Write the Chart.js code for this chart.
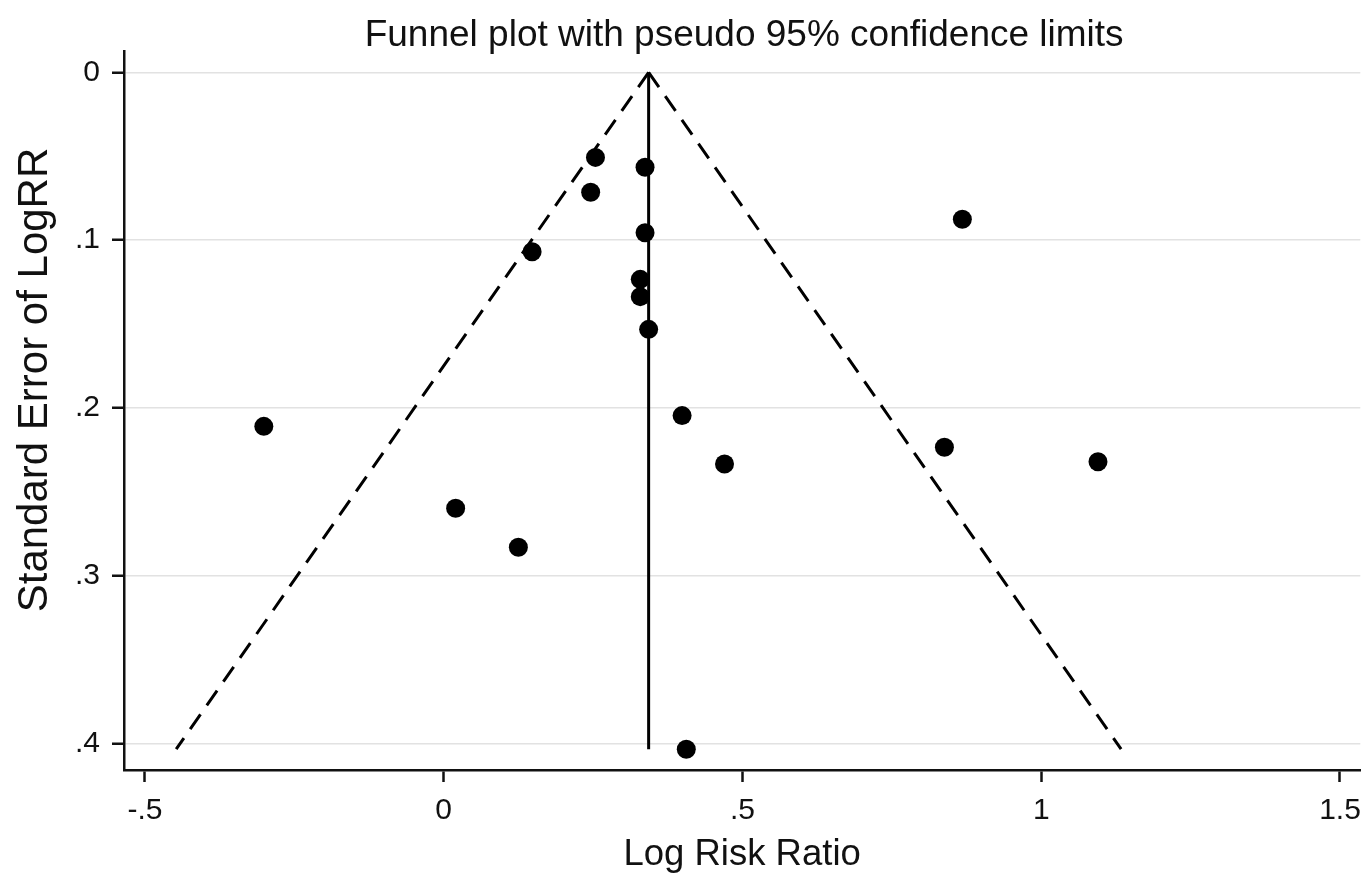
<!DOCTYPE html>
<html>
<head>
<meta charset="utf-8">
<title>Funnel plot</title>
<script src="https://cdn.jsdelivr.net/npm/chart.js@4.4.1/dist/chart.umd.min.js"></script>
<style>
  html, body { margin: 0; padding: 0; background: #fff; }
  #wrap { width: 1372px; height: 880px; }
</style>
</head>
<body>
<div id="wrap"><canvas id="funnel" width="1372" height="880"></canvas></div>
<script>
// study estimates
const logRR = [0.254, 0.337, 0.246, 0.868, 0.337, 0.148, 0.329, 0.329, 0.343,
               0.399, -0.301, 0.838, 0.470, 1.095, 0.020, 0.125, 0.406];
const seLogRR = [0.0507, 0.0566, 0.0715, 0.0876, 0.0956, 0.1069, 0.1234, 0.1337, 0.1532,
                 0.2046, 0.2110, 0.2235, 0.2334, 0.2321, 0.2598, 0.2831, 0.4034];
const pooledLogRR = 0.343;
const z95 = 1.96;

const xTicks = [-0.5, 0, 0.5, 1, 1.5];
const yTicks = [0, 0.1, 0.2, 0.3, 0.4];

const titleText = 'Funnel plot with pseudo 95% confidence limits';
const xTitle = 'Log Risk Ratio';
const yTitle = 'Standard Error of LogRR';

const FONT = '"Liberation Sans", Arial, sans-serif';
const INK = '#111';

const maxSE = Math.max(...seLogRR);
const studies = logRR.map((x, i) => ({ x: x, y: seLogRR[i] }));
const pooledLine = [{ x: pooledLogRR, y: 0 }, { x: pooledLogRR, y: maxSE }];
const lowerLimit = [{ x: pooledLogRR, y: 0 }, { x: pooledLogRR - z95 * maxSE, y: maxSE }];
const upperLimit = [{ x: pooledLogRR, y: 0 }, { x: pooledLogRR + z95 * maxSE, y: maxSE }];

// stata style labels: .5 instead of 0.5
const stataLabel = v => String(Math.round(v * 10) / 10).replace(/^(-?)0\./, '$1.');

const textPlugin = {
    id: 'stataText',
    afterDraw(chart) {
        const ctx = chart.ctx;
        const area = chart.chartArea;
        ctx.save();
        ctx.fillStyle = INK;
        ctx.textAlign = 'center';
        ctx.textBaseline = 'alphabetic';
        ctx.font = '37px ' + FONT;
        ctx.fillText(titleText, (area.left + area.right) / 2 + 2, 46);

        ctx.translate(47, 380);
        ctx.rotate(-Math.PI / 2);
        ctx.font = '42px ' + FONT;
        ctx.fillText(yTitle, 0, 0);
        ctx.restore();
    }
};

const ctx = document.getElementById('funnel').getContext('2d');
new Chart(ctx, {
    type: 'scatter',
    data: {
        datasets: [
            {
                label: 'Studies',
                data: studies,
                backgroundColor: '#000',
                borderColor: '#000',
                pointRadius: 9.5,
                pointBorderWidth: 0,
            },
            {
                label: 'Pooled',
                data: pooledLine,
                showLine: true,
                borderColor: '#000',
                borderWidth: 3,
                pointRadius: 0,
            },
            {
                label: 'Lower 95%',
                data: lowerLimit,
                showLine: true,
                borderColor: '#000',
                borderWidth: 3,
                borderDash: [18, 11],
                pointRadius: 0,
            },
            {
                label: 'Upper 95%',
                data: upperLimit,
                showLine: true,
                borderColor: '#000',
                borderWidth: 3,
                borderDash: [18, 11],
                pointRadius: 0,
            },
        ],
    },
    options: {
        responsive: false,
        animation: false,
        devicePixelRatio: 1,
        layout: { padding: { left: 0, top: 51, right: 9, bottom: 0 } },
        plugins: {
            legend: { display: false },
            tooltip: { enabled: false },
            title: { display: false },
        },
        scales: {
            x: {
                type: 'linear',
                min: -0.535,
                max: 1.534,
                afterBuildTicks: scale => { scale.ticks = xTicks.map(v => ({ value: v })); },
                afterFit: scale => { scale.height = 110; },
                ticks: {
                    autoSkip: false,
                    padding: 11,
                    color: INK,
                    font: { family: FONT, size: 30 },
                    callback: v => stataLabel(v),
                },
                grid: {
                    drawOnChartArea: false,
                    tickLength: 12,
                    tickWidth: 2.5,
                    tickColor: INK,
                },
                border: { display: true, color: INK, width: 2.5 },
                title: {
                    display: true,
                    text: xTitle,
                    color: INK,
                    font: { family: FONT, size: 36.5, lineHeight: 1 },
                    padding: { top: 0, bottom: 7 },
                },
            },
            y: {
                type: 'linear',
                reverse: true,
                min: -0.0127,
                max: 0.4158,
                afterBuildTicks: scale => { scale.ticks = yTicks.map(v => ({ value: v })); },
                afterFit: scale => { scale.width = 124; },
                ticks: {
                    autoSkip: false,
                    padding: 12,
                    color: INK,
                    font: { family: FONT, size: 30 },
                    callback: v => stataLabel(v),
                },
                grid: {
                    color: '#e2e2e2',
                    lineWidth: 1.5,
                    tickLength: 12,
                    tickWidth: 2.5,
                    tickColor: INK,
                },
                border: { display: true, color: INK, width: 2.5 },
            },
        },
    },
    plugins: [textPlugin],
});
</script>
</body>
</html>
